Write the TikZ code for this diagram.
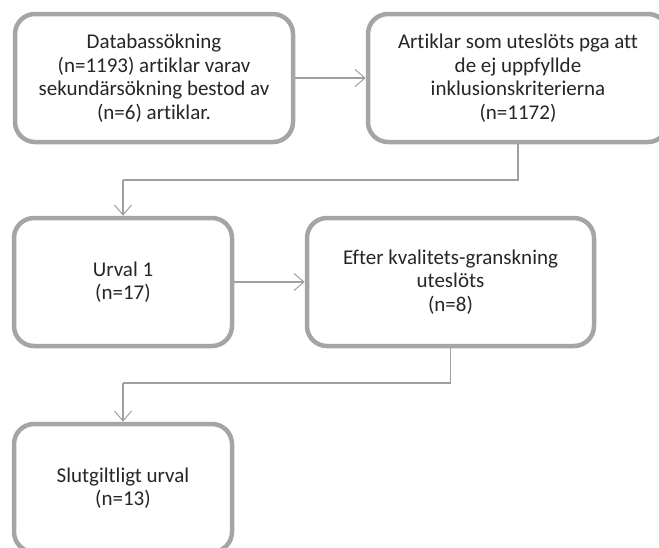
\documentclass[tikz,border=0pt]{standalone}
\usepackage{fontspec}
\setmainfont{Carlito}[Ligatures=NoCommon]
\usetikzlibrary{arrows.meta}
\definecolor{boxgray}{HTML}{A5A5A5}
\definecolor{linegray}{HTML}{A0A0A0}
\begin{document}
\begin{tikzpicture}[x=1pt,y=-1pt,
  flowbox/.style={draw=boxgray,line width=4.5pt,rounded corners=20pt,fill=white,
    align=center,inner sep=2pt,minimum height=128pt,
    font=\fontsize{21}{23.5}\selectfont,text=black!85},
  conn/.style={draw=linegray,line width=1.2pt,-{Straight Barb[length=10pt,width=17pt,line width=1pt]}},
  connplain/.style={draw=linegray,line width=1.2pt}]
\clip (0,0) rectangle (659,547);
\useasboundingbox (0,0) rectangle (659,547);
\node[flowbox,minimum width=278pt] (b1) at (154,78) {Databassökning\\(n=1193) artiklar varav\\sekundärsökning bestod av\\(n=6) artiklar.};
\node[flowbox,minimum width=300pt] (b2) at (518,78) {Artiklar som uteslöts pga att\\de ej uppfyllde\\inklusionskriterierna\\(n=1172)};
\node[flowbox,minimum width=218pt] (b3) at (123,282) {Urval 1\\(n=17)};
\node[flowbox,minimum width=287pt] (b4) at (450.5,282) {Efter kvalitets-granskning\\uteslöts\\(n=8)};
\node[flowbox,minimum width=218pt] (b5) at (123,488) {Slutgiltligt urval\\(n=13)};
\coordinate (c1) at (518,180);
\coordinate (c2) at (123,180);
\coordinate (c3) at (450.5,383);
\coordinate (c4) at (123,383);
\draw[conn] (b1.east) -- (b2.west);
\draw[connplain] (b2.south) -- (c1) -- (c2);
\draw[conn] (c2) -- (b3.north);
\draw[conn] (b3.east) -- (b4.west);
\draw[connplain] (b4.south) -- (c3) -- (c4);
\draw[conn] (c4) -- (b5.north);
\end{tikzpicture}
\end{document}
